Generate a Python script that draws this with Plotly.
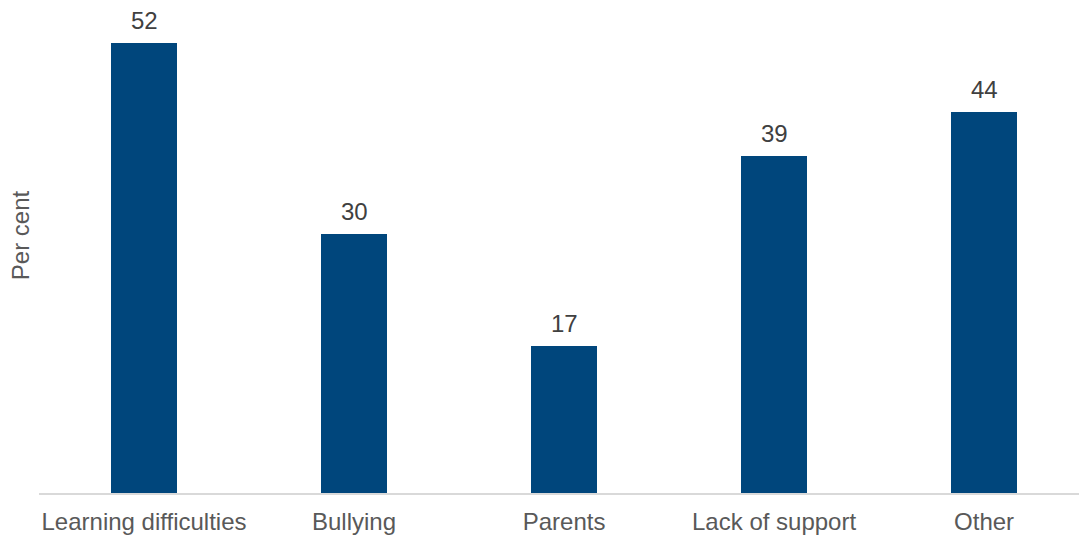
import plotly.graph_objects as go

categories = ["Learning difficulties", "Bullying", "Parents", "Lack of support", "Other"]
values = [52, 30, 17, 39, 44]

bar_color = "#00467C"
font_family = "Liberation Sans, Arial, sans-serif"

fig = go.Figure()
fig.add_trace(go.Bar(
    x=list(range(len(categories))),
    y=values,
    width=0.314,
    marker=dict(color=bar_color, line=dict(width=0)),
    hoverinfo="skip",
))

# value labels above each bar
for i, v in enumerate(values):
    fig.add_annotation(
        x=i, y=v, text=str(v), showarrow=False,
        xref="x", yref="y", yanchor="bottom", yshift=7,
        font=dict(family=font_family, size=24, color="#404040"),
    )

# rotated y-axis title
fig.add_annotation(
    x=-19 / 1040, y=0.523, xref="paper", yref="paper",
    text="Per cent", textangle=-90, showarrow=False,
    xanchor="center", yanchor="middle",
    font=dict(family=font_family, size=24, color="#595959"),
)

fig.update_layout(
    width=1079, height=535,
    margin=dict(l=39, r=0, t=0, b=42),
    paper_bgcolor="white", plot_bgcolor="white",
    showlegend=False,
    bargap=0,
    xaxis=dict(
        range=[-0.5, 4.452],
        tickmode="array",
        tickvals=list(range(len(categories))),
        ticktext=categories,
        showgrid=False, zeroline=False,
        showline=True, linecolor="#D9D9D9", linewidth=2,
        ticks="", ticklabelstandoff=6,
        tickfont=dict(family=font_family, size=24, color="#595959"),
    ),
    yaxis=dict(
        range=[0, 57.0],
        showgrid=False, zeroline=False, showline=False,
        showticklabels=False, ticks="",
    ),
)

fig.write_html("out.html")
